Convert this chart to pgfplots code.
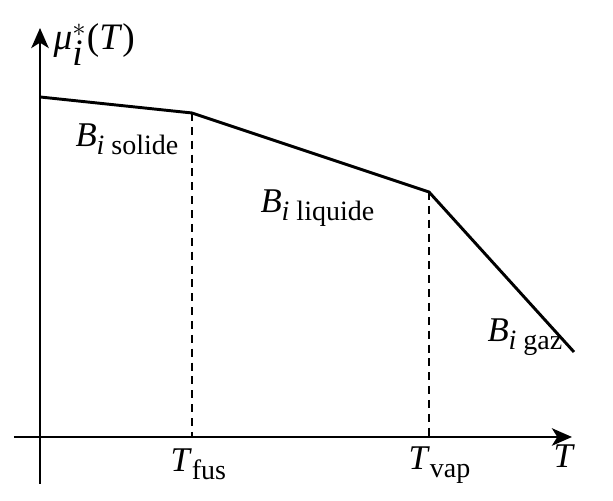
\documentclass[border=0pt]{standalone}
\usepackage{fontspec}
\setmainfont{Liberation Serif}
\usepackage{pgfplots}
\pgfplotsset{compat=1.18}
\usetikzlibrary{arrows.meta}
\newcommand{\sub}[1]{\raisebox{-0.5ex}{\fontsize{10.5}{12}\selectfont #1}}
\begin{document}
\begin{tikzpicture}
\begin{axis}[
  scale only axis, width=229.875pt, height=187.875pt,
  xmin=0, xmax=613, ymin=0, ymax=501,
  hide axis, clip=false,
]
\path[use as bounding box] (rel axis cs:0,0) rectangle (rel axis cs:1,1);
% axes
\addplot[black, line width=1.1pt, -{Stealth[length=7.5pt,width=6.5pt,inset=2pt]}] coordinates {(14,64) (572,64)};
\addplot[black, line width=1.1pt, -{Stealth[length=7.5pt,width=6.5pt,inset=2pt]}] coordinates {(40,17) (40,473)};
% curve
\addplot[black, line width=1.1pt] coordinates {(40,404) (192,388) (429,309) (574,149)};
% dashed
\addplot[black, line width=0.9pt, dash pattern=on 3pt off 2.2pt] coordinates {(192,388) (192,64)};
\addplot[black, line width=0.9pt, dash pattern=on 3pt off 2.2pt] coordinates {(429,309) (429,64)};
% labels
\node[anchor=base west, inner sep=0pt, font=\fontsize{14}{16}\selectfont] at (axis cs:53,451) {\textit{μ}$^{*}_{\textit{i}}$(\textit{T})};
\node[anchor=base west, inner sep=0pt, font=\fontsize{13}{15}\selectfont] at (axis cs:75,354) {\textit{B}\sub{\textit{i} solide}};
\node[anchor=base west, inner sep=0pt, font=\fontsize{13}{15}\selectfont] at (axis cs:260,288) {\textit{B}\sub{\textit{i} liquide}};
\node[anchor=base west, inner sep=0pt, font=\fontsize{13}{15}\selectfont] at (axis cs:487,159) {\textit{B}\sub{\textit{i} gaz}};
\node[anchor=base west, inner sep=0pt, font=\fontsize{13}{15}\selectfont] at (axis cs:170,29) {\textit{T}\sub{fus}};
\node[anchor=base west, inner sep=0pt, font=\fontsize{13}{15}\selectfont] at (axis cs:408,31) {\textit{T}\sub{vap}};
\node[anchor=base west, inner sep=0pt, font=\fontsize{13}{15}\selectfont] at (axis cs:553,33) {\textit{T}};
\end{axis}
\end{tikzpicture}
\end{document}
